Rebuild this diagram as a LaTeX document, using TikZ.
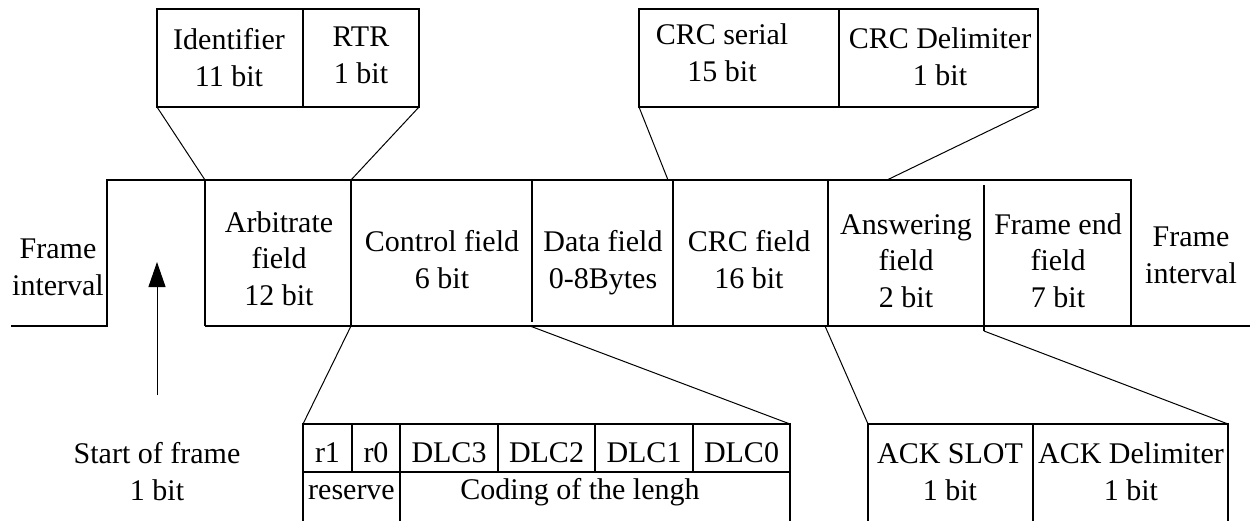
\documentclass[tikz,border=0pt]{standalone}
\usepackage{fontspec}
\setmainfont{Liberation Serif}
\usetikzlibrary{arrows.meta}

\begin{document}
\begin{tikzpicture}[x=1pt,y=-1pt,
  frame/.style={draw=black,line width=1.1pt},
  cell/.style={draw=black,line width=1.1pt,rectangle,inner sep=0pt,outer sep=0pt},
  area/.style={rectangle,inner sep=0pt,outer sep=0pt},
  lbl/.style={anchor=base,align=center,inner sep=0pt,font=\fontsize{30}{36.5}\selectfont},
  link/.style={draw=black,line width=1pt}]

\useasboundingbox (0,0) rectangle (1250,520);
\fill[white] (0,0) rectangle (1250,520);
\clip (0,0) rectangle (1250,520);

% fields of the frame (geometry only)
\node[area,minimum width=96pt,minimum height=146pt]  (fi1)  at (59,253) {};
\node[area,minimum width=98pt,minimum height=146pt]  (sof)  at (156,253) {};
\node[area,minimum width=146pt,minimum height=146pt] (arb)  at (278,253) {};
\node[area,minimum width=181pt,minimum height=146pt] (ctl)  at (441.5,253) {};
\node[area,minimum width=141pt,minimum height=146pt] (data) at (602.5,253) {};
\node[area,minimum width=155pt,minimum height=146pt] (crc)  at (750.5,253) {};
\node[area,minimum width=156pt,minimum height=146pt] (ans)  at (906,253) {};
\node[area,minimum width=147pt,minimum height=146pt] (fend) at (1057.5,253) {};
\node[area,minimum width=119pt,minimum height=146pt] (fi2)  at (1190.5,253) {};

% outline of the frame
\draw[frame] (fi1.south west) -- (sof.south west) -- (sof.north west) -- (fend.north east) -- (fend.south east);
\draw[frame] (arb.south west) -- (fi2.south east);
\draw[frame] (arb.north west) -- (arb.south west);
\draw[frame] (ctl.north west) -- (ctl.south west);
\draw[frame] (data.north west) -- ([yshift=4pt]data.south west);
\draw[frame] (crc.north west) -- (crc.south west);
\draw[frame] (ans.north west) -- (ans.south west);
\draw[frame] ([yshift=-5pt]fend.north west) -- ([yshift=-5pt]fend.south west);

% arbitration field detail
\node[cell,minimum width=146pt,minimum height=98pt] (ident) at (230,58) {};
\node[cell,minimum width=116pt,minimum height=98pt] (rtr)   at (361,58) {};

% CRC field detail
\node[cell,minimum width=200pt,minimum height=98pt] (crcs) at (739,58) {};
\node[cell,minimum width=199pt,minimum height=98pt] (crcd) at (938.5,58) {};

% control field detail
\node[cell,minimum width=49pt,minimum height=48pt] (r1)   at (327.5,448) {};
\node[cell,minimum width=48pt,minimum height=48pt] (r0)   at (376,448) {};
\node[cell,minimum width=98pt,minimum height=48pt] (dlc3) at (449,448) {};
\node[cell,minimum width=97pt,minimum height=48pt] (dlc2) at (546.5,448) {};
\node[cell,minimum width=98pt,minimum height=48pt] (dlc1) at (644,448) {};
\node[cell,minimum width=97pt,minimum height=48pt] (dlc0) at (741.5,448) {};
\node[cell,minimum width=97pt,minimum height=88pt]  (res) at (351.5,516) {};
\node[cell,minimum width=390pt,minimum height=88pt] (cod) at (595,516) {};

% answering field detail
\node[cell,minimum width=165pt,minimum height=136pt] (ack)  at (950.5,492) {};
\node[cell,minimum width=195pt,minimum height=136pt] (ackd) at (1130.5,492) {};

% expansion lines
\draw[link] (ident.south west) -- (arb.north west);
\draw[link] (rtr.south east) -- (ctl.north west);
\draw[link] (crcs.south west) -- ([xshift=-5pt]crc.north west);
\draw[link] (crcd.south east) -- ([xshift=59pt]ans.north west);
\draw[link] (ctl.south west) -- (r1.north west);
\draw[link] ([xshift=-2pt]data.south west) -- (dlc0.north east);
\draw[link] ([xshift=-3pt]ans.south west) -- (ack.north west);
\draw[link] ([yshift=-5pt]fend.south west) -- (ackd.north east);

% start of frame marker
\coordinate (sofb) at (157,395);
\coordinate (soft) at (157,262);
\draw[line width=1pt,-{Triangle[length=25pt,width=17pt]}] (sofb) -- (soft);

% labels (anchored at the baseline of their last line)
\node[lbl] (tfi1)  at (58,295)    {Frame\\interval};
\node[lbl] (tfi2)  at (1191,283)  {Frame\\interval};
\node[lbl] (tarb)  at (279,305)   {Arbitrate\\field\\12 bit};
\node[lbl] (tctl)  at (442,288)   {Control field\\6 bit};
\node[lbl] (tdata) at (603,288)   {Data field\\0-8Bytes};
\node[lbl] (tcrc)  at (749,288)   {CRC field\\16 bit};
\node[lbl] (tans)  at (906,307)   {Answering\\field\\2 bit};
\node[lbl] (tfend) at (1058,307)  {Frame end\\field\\7 bit};
\node[lbl] (tid)   at (229,86)    {Identifier\\11 bit};
\node[lbl] (trtr)  at (361,83)    {RTR\\1 bit};
\node[lbl] (tcrcs) at (722,81)    {CRC serial\\15 bit};
\node[lbl] (tcrcd) at (940,85)    {CRC Delimiter\\1 bit};
\node[lbl] (tsof)  at (157,500)   {Start of frame\\1 bit};
\node[lbl] (tr1)   at (327.5,462) {r1};
\node[lbl] (tr0)   at (376,462)   {r0};
\node[lbl] (td3)   at (449,462)   {DLC3};
\node[lbl] (td2)   at (546.5,462) {DLC2};
\node[lbl] (td1)   at (644,462)   {DLC1};
\node[lbl] (td0)   at (741.5,462) {DLC0};
\node[lbl] (tres)  at (351.5,499) {reserve};
\node[lbl] (tcod)  at (580,499)   {Coding of the lengh};
\node[lbl] (tack)  at (950,500)   {ACK SLOT\\1 bit};
\node[lbl] (tackd) at (1131,500)  {ACK Delimiter\\1 bit};
\end{tikzpicture}
\end{document}
